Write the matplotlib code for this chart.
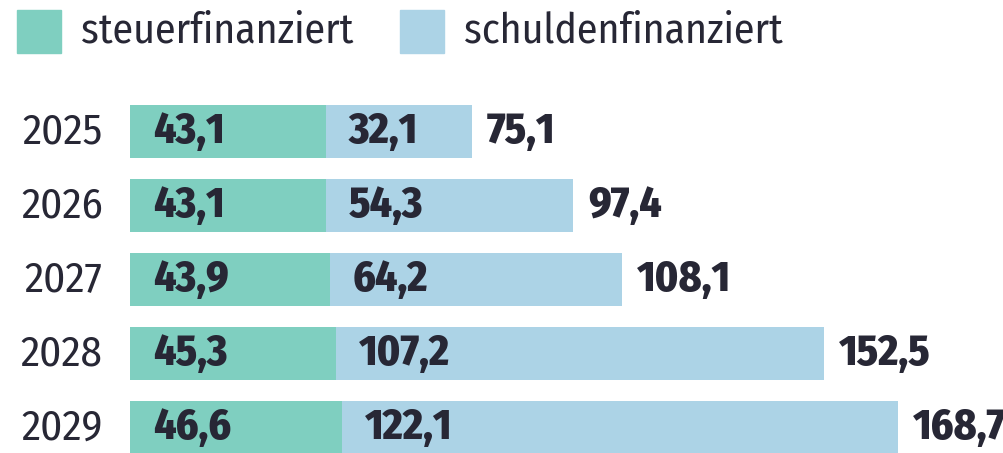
import matplotlib.pyplot as plt
from matplotlib.patches import Rectangle

years = ['2025', '2026', '2027', '2028', '2029']
steuer = [43.1, 43.1, 43.9, 45.3, 46.6]
schulden = [32.1, 54.3, 64.2, 107.2, 122.1]
gesamt = [75.1, 97.4, 108.1, 152.5, 168.7]

teal = '#7fcfc0'
blue = '#acd3e6'
dark = '#272735'
fam = ['Fira Sans Condensed', 'DejaVu Sans']
fs = 31

def fmt(v):
    return f'{v:.1f}'.replace('.', ',')

fig = plt.figure(figsize=(10.04, 4.53), dpi=100)
ax = fig.add_axes([130 / 1004, 0, 874 / 1004, 1])
ypos = list(range(len(years)))
ax.barh(ypos, steuer, height=0.72, color=teal)
ax.barh(ypos, schulden, left=steuer, height=0.72, color=blue)
ax.set_xlim(0, 192)
ax.set_ylim(4.34, -1.78)
ax.axis('off')

for i in ypos:
    ax.text(-6, i, years[i], ha='right', va='center', fontsize=fs,
            color=dark, family=fam, clip_on=False)
    ax.text(5, i, fmt(steuer[i]), ha='left', va='center', fontsize=fs,
            fontweight=800, color=dark, family=fam)
    ax.text(steuer[i] + 5, i, fmt(schulden[i]), ha='left', va='center',
            fontsize=fs, fontweight=800, color=dark, family=fam)
    ax.text(gesamt[i] + 3.2, i, fmt(gesamt[i]), ha='left', va='center',
            fontsize=fs, fontweight=800, color=dark, family=fam)

# legend
for x0, col, lab in [(17, teal, 'steuerfinanziert'), (400, blue, 'schuldenfinanziert')]:
    fig.patches.append(Rectangle((x0 / 1004, 1 - 53 / 453), 44 / 1004, 43 / 453,
                                 transform=fig.transFigure, color=col))
    fig.text((x0 + 64) / 1004, 1 - 31 / 453, lab, ha='left', va='center',
             fontsize=30, color=dark, family=fam)

fig.savefig('out.png', dpi=100)
